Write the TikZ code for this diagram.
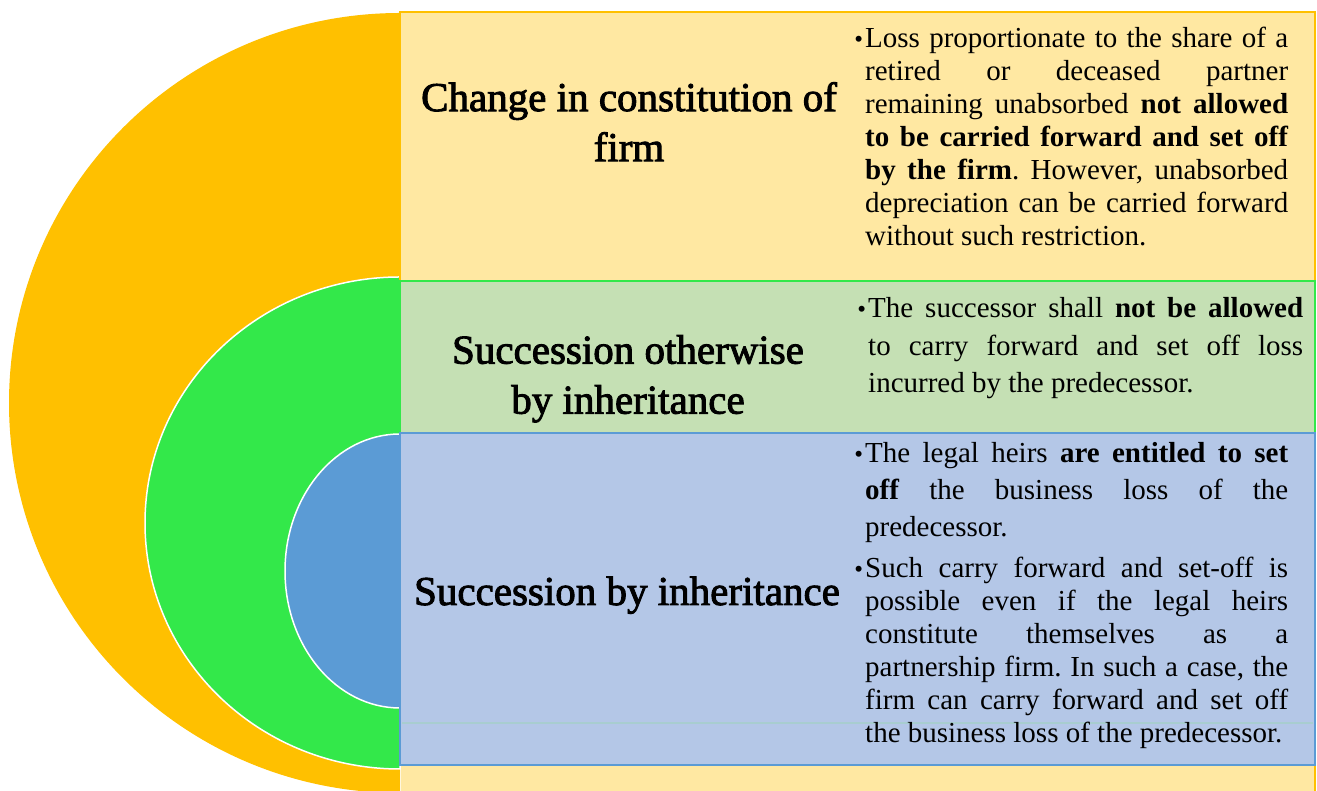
\documentclass[tikz,border=0pt]{standalone}
\usepackage{fontspec}
\setmainfont{Liberation Serif}
\newfontfamily\headfont[FakeBold=2.2]{Liberation Serif}
\usepackage{tikz}
\definecolor{ringgold}{HTML}{FFC000}
\definecolor{ringgreen}{HTML}{33E84A}
\definecolor{ringblue}{HTML}{5B9BD5}
\definecolor{panelgold}{HTML}{FFE8A2}
\definecolor{panelgreen}{HTML}{C5E0B4}
\definecolor{panelblue}{HTML}{B4C7E7}
\definecolor{seamline}{HTML}{A8CDD0}
\frenchspacing
\newcommand{\bul}{\llap{\raisebox{0pt}{\fontsize{25}{25}\selectfont\textbullet}\hspace{2pt}}}
\newcommand{\jl}[2][423pt]{\makebox[#1][s]{#2}}
\tikzset{
  halfring/.style = {draw=white, line width=1.5pt},
  panel/.style    = {line width=2pt},
  headtxt/.style  = {font=\headfont\fontsize{41}{50}\selectfont, align=center, inner sep=0pt},
  bodytxt/.style  = {font=\fontsize{29}{33}\selectfont, align=left, inner sep=0pt, anchor=north west}
}

\begin{document}
\begin{tikzpicture}[x=1pt,y=1pt]
  \clip (0,0) rectangle (1317,791);
  % --- nested half rings, outer to inner
  \fill[ringgold] (400,778) arc[start angle=90,end angle=270,x radius=391,y radius=390] -- cycle;
  \filldraw[halfring,fill=ringgreen] (400,514) arc[start angle=90,end angle=270,x radius=255,y radius=246] -- cycle;
  \filldraw[halfring,fill=ringblue] (400,357) arc[start angle=90,end angle=270,x radius=115,y radius=137] -- cycle;
  % --- panels
  \filldraw[panel,draw=ringgold,fill=panelgold]   (400,510) rectangle (1315,779);
  \filldraw[panel,draw=ringgreen,fill=panelgreen] (400,358) rectangle (1315,510);
  \filldraw[panel,draw=ringblue,fill=panelblue]   (400,26) rectangle (1315,358);
  \draw[seamline,line width=1.5pt] (402,68) -- (1313,68);
  % bottom of the gold panel, cut by the page
  \fill[panelgold] (401,0) rectangle (1315,25);
  \draw[panel,ringgold] (1315,0) -- (1315,25);
  % --- headings
  \node[headtxt,anchor=north] (hfirm) at (629,709) {Change in constitution of\\firm};
  \node[headtxt,anchor=north] (hother) at (628,456) {Succession otherwise\\by inheritance};
  \node[headtxt,anchor=base] (hinherit) at (627,186) {Succession by inheritance};
  % --- bullet texts
  \node[bodytxt] (bfirm) at (865,763.8) {%
    \jl{\bul Loss proportionate to the share of a}\\
    \jl{retired or deceased partner}\\
    \jl{remaining unabsorbed \textbf{not allowed}}\\
    \jl{\textbf{to be carried forward and set off}}\\
    \jl{\textbf{by the firm}. However, unabsorbed}\\
    \jl{depreciation can be carried forward}\\
    without such restriction.};
  \node[bodytxt,font=\fontsize{29}{37.5}\selectfont] (bother) at (868,493.8) {%
    \jl[435pt]{\bul The successor shall \textbf{not be allowed}}\\
    \jl[435pt]{to carry forward and set off loss}\\
    incurred by the predecessor.};
  \node[bodytxt,font=\fontsize{29}{37}\selectfont] (binherita) at (865,348.8) {%
    \jl{\bul The legal heirs \textbf{are entitled to set}}\\
    \jl{\textbf{off} the business loss of the}\\
    predecessor.};
  \node[bodytxt] (binheritb) at (865,233.8) {%
    \jl{\bul Such carry forward and set-off is}\\
    \jl{possible even if the legal heirs}\\
    \jl{constitute themselves as a}\\
    \jl{partnership firm. In such a case, the}\\
    \jl{firm can carry forward and set off}\\
    the business loss of the predecessor.};
\end{tikzpicture}
\end{document}
